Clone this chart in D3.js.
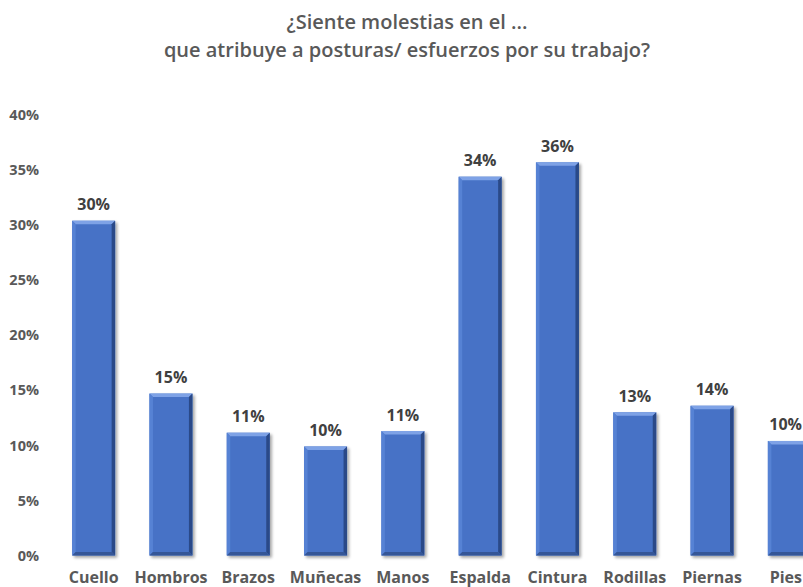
<!DOCTYPE html>
<html>
<head>
<meta charset="utf-8">
<script src="https://cdn.jsdelivr.net/npm/d3@7"></script>
<style>
  html, body { margin: 0; padding: 0; background: #ffffff; overflow: hidden; }
  svg { display: block; font-family: "Open Sans", "Noto Sans", sans-serif; }
</style>
</head>
<body>
<svg id="chart" width="803" height="587"></svg>
<script>
// Body areas and share of respondents reporting discomfort
const categories = ["Cuello", "Hombros", "Brazos", "Muñecas", "Manos", "Espalda", "Cintura", "Rodillas", "Piernas", "Pies"];
const values = [0.304, 0.147, 0.1115, 0.099, 0.113, 0.344, 0.357, 0.130, 0.136, 0.104];
const yTicks = [0, 0.05, 0.10, 0.15, 0.20, 0.25, 0.30, 0.35, 0.40];
const titleLines = ["¿Siente molestias en el ...", "que atribuye a posturas/ esfuerzos por su trabajo?"];

const svg = d3.select("#chart");
const W = 803;
const textColor = "#595959";
const pct = d3.format(".0%");

const x = d3.scaleBand()
  .domain(categories)
  .range([55, 828])
  .paddingInner(0.444)
  .paddingOuter(0.222);

const y = d3.scaleLinear()
  .domain([0, 0.40])
  .range([555.5, 115]);

// Keep a text fully inside the drawing's right edge
function keepInside(sel) {
  sel.each(function () {
    const bb = this.getBBox();
    const ctm = this.getCTM();
    const right = bb.x + bb.width + (ctm ? ctm.e : 0);
    if (right > W - 1) {
      const cur = +d3.select(this).attr("x") || 0;
      d3.select(this).attr("x", cur - (right - (W - 1)));
    }
  });
}

// Title
svg.append("g")
  .selectAll("text")
  .data(titleLines)
  .join("text")
  .attr("x", 407)
  .attr("y", (d, i) => 28.5 + i * 28.5)
  .attr("text-anchor", "middle")
  .attr("font-size", 20)
  .attr("font-weight", 600)
  .attr("fill", textColor)
  .text(d => d);

// Soft shadow for the bars
const defs = svg.append("defs");
const shadow = defs.append("filter").attr("id", "barShadow")
  .attr("x", "-20%").attr("y", "-10%").attr("width", "150%").attr("height", "130%");
shadow.append("feGaussianBlur").attr("in", "SourceAlpha").attr("stdDeviation", 1.6).attr("result", "blur");
shadow.append("feOffset").attr("in", "blur").attr("dx", 1.5).attr("dy", 1.5).attr("result", "off");
shadow.append("feComponentTransfer").attr("in", "off").attr("result", "shade")
  .append("feFuncA").attr("type", "linear").attr("slope", 0.35);
const merge = shadow.append("feMerge");
merge.append("feMergeNode").attr("in", "shade");
merge.append("feMergeNode").attr("in", "SourceGraphic");

// Y axis (labels only)
const yAxis = svg.append("g")
  .attr("transform", "translate(39,0)")
  .call(d3.axisLeft(y).tickValues(yTicks).tickFormat(pct).tickSize(0).tickPadding(0));
yAxis.select(".domain").remove();
yAxis.selectAll("text")
  .attr("font-family", "'Open Sans', sans-serif")
  .attr("font-size", 14.5)
  .attr("font-weight", 700)
  .attr("fill", textColor);

// X axis (category labels only)
const xAxis = svg.append("g")
  .attr("transform", `translate(0,${y(0)})`)
  .call(d3.axisBottom(x).tickSize(0).tickPadding(16.5));
xAxis.select(".domain").remove();
xAxis.selectAll("text")
  .attr("font-family", "'Open Sans', sans-serif")
  .attr("font-size", 16)
  .attr("font-weight", 700)
  .attr("fill", textColor)
  .call(keepInside);

// Bevelled bars
const data = categories.map((c, i) => ({ c, v: values[i] }));
const bw = x.bandwidth();
const b = 3.5;

const bars = svg.append("g")
  .selectAll("g.bar")
  .data(data)
  .join("g")
  .attr("class", "bar")
  .attr("filter", "url(#barShadow)");

bars.append("rect")
  .attr("x", d => x(d.c))
  .attr("y", d => y(d.v))
  .attr("width", bw)
  .attr("height", d => y(0) - y(d.v))
  .attr("fill", "#4672c6");

const poly = (pts) => pts.map(p => p.join(",")).join(" ");

// top bevel
bars.append("polygon")
  .attr("points", d => {
    const x0 = x(d.c), y0 = y(d.v), x1 = x0 + bw;
    return poly([[x0, y0], [x1, y0], [x1 - b, y0 + b], [x0 + b, y0 + b]]);
  })
  .attr("fill", "#7ea2e6");
// left bevel
bars.append("polygon")
  .attr("points", d => {
    const x0 = x(d.c), y0 = y(d.v), y1 = y(0);
    return poly([[x0, y0], [x0 + b, y0 + b], [x0 + b, y1 - b], [x0, y1]]);
  })
  .attr("fill", "#5682d4");
// right bevel
bars.append("polygon")
  .attr("points", d => {
    const x1 = x(d.c) + bw, y0 = y(d.v), y1 = y(0);
    return poly([[x1, y0], [x1 - b, y0 + b], [x1 - b, y1 - b], [x1, y1]]);
  })
  .attr("fill", "#2b4a88");
// bottom bevel
bars.append("polygon")
  .attr("points", d => {
    const x0 = x(d.c), x1 = x0 + bw, y1 = y(0);
    return poly([[x0, y1], [x0 + b, y1 - b], [x1 - b, y1 - b], [x1, y1]]);
  })
  .attr("fill", "#345697");

// Value labels
svg.append("g")
  .selectAll("text")
  .data(data)
  .join("text")
  .attr("x", d => x(d.c) + bw / 2)
  .attr("y", d => y(d.v) - 10.5)
  .attr("text-anchor", "middle")
  .attr("font-size", 16)
  .attr("font-weight", 700)
  .attr("fill", "#404040")
  .text(d => pct(d.v))
  .call(keepInside);
</script>
</body>
</html>
